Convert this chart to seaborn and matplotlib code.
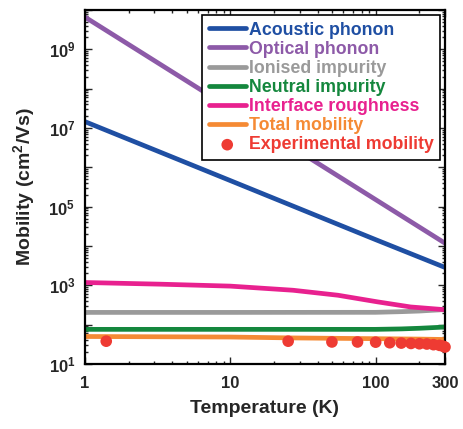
import numpy as np
import matplotlib
matplotlib.use("Agg")
import matplotlib.pyplot as plt
import matplotlib.ticker as mticker
import seaborn as sns

# ---- data ----
T_ac = [1, 10, 100, 300]
mu_ac = [1.45e7, 4.6e5, 1.45e4, 2.85e3]

T_op = [1, 300]
mu_op = [6.6e9, 1.18e4]

T_ion = [1, 10, 100, 150, 200, 300]
mu_ion = [205, 205, 206, 214, 222, 242]

T_neu = [1, 10, 100, 150, 200, 300]
mu_neu = [76, 76, 76, 78, 81, 87]

T_ir = [1, 3.3, 10, 27, 55, 103, 174, 300]
mu_ir = [1180, 1070, 955, 750, 560, 380, 282, 240]

T_tot = [1, 10, 27, 100, 200, 300]
mu_tot = [50, 48.5, 46, 44, 43, 42]

T_exp = [1.4, 25, 50, 75, 100, 125, 150, 175, 200, 225, 250, 275, 290, 300]
mu_exp = [38, 38, 36.3, 36.3, 35.9, 34.7, 34, 33.3, 32.7, 32.2, 31, 29.8, 28.5, 27]

x_ticks = [1, 10, 100, 300]
x_ticklabels = ["1", "10", "100", "300"]

sns.set_style("ticks")
plt.rcParams["font.family"] = ["Liberation Sans", "DejaVu Sans"]
plt.rcParams["font.weight"] = "bold"
plt.rcParams["mathtext.fontset"] = "custom"
plt.rcParams["mathtext.rm"] = "Liberation Sans:bold"
plt.rcParams["mathtext.bf"] = "Liberation Sans:bold"
plt.rcParams["mathtext.default"] = "bf"

fig = plt.figure(figsize=(4.64, 4.29), dpi=100)
ax = fig.add_axes([85/464, 1-364/429, 360/464, 354/429])

lw = 3.4
series = [
    (T_ac, mu_ac, "#1f4fa3", "Acoustic phonon"),
    (T_op, mu_op, "#8d5aa8", "Optical phonon"),
    (T_ion, mu_ion, "#9a9a9a", "Ionised impurity"),
    (T_neu, mu_neu, "#14873d", "Neutral impurity"),
    (T_ir, mu_ir, "#e8218f", "Interface roughness"),
    (T_tot, mu_tot, "#f58a34", "Total mobility"),
]
for t, m, c, lab in series:
    sns.lineplot(x=t, y=m, color=c, lw=lw, label=lab, ax=ax, sort=False)

sns.scatterplot(x=T_exp, y=mu_exp, color="#ee3b33", s=70, edgecolor="none",
                label="Experimental mobility", ax=ax, zorder=5, clip_on=False)

ax.set_xscale("log")
ax.set_yscale("log")
ax.set_xlim(1, 300)
ax.set_ylim(10, 1e10)

ax.set_xticks(x_ticks)
ax.set_xticklabels(x_ticklabels)
ax.xaxis.set_minor_locator(mticker.LogLocator(base=10, subs=np.arange(2, 10)))
ax.xaxis.set_minor_formatter(mticker.NullFormatter())

yt = [10.0**k for k in range(1, 11)]
ax.set_yticks(yt)
ax.set_yticklabels([r"$\mathbf{10^{%d}}$" % k if k % 2 == 1 and k < 10 else "" for k in range(1, 11)])
ax.yaxis.set_minor_locator(mticker.LogLocator(base=10, subs=np.arange(2, 10), numticks=20))
ax.yaxis.set_minor_formatter(mticker.NullFormatter())

ax.tick_params(which="both", direction="in", top=True, right=True, width=1.0)
ax.tick_params(which="major", length=5, labelsize=12)
ax.tick_params(axis="x", which="major", pad=9)
ax.tick_params(axis="y", which="major", pad=7)
ax.tick_params(which="minor", length=2.5)
for s in ax.spines.values():
    s.set_linewidth(1.6)
    s.set_color("black")

ax.set_xlabel("Temperature (K)", fontsize=14, fontweight="bold", labelpad=6)
ax.set_ylabel("Mobility (cm$^{2}$/Vs)", fontsize=14, fontweight="bold", labelpad=8)

leg = ax.legend(loc="upper right", fontsize=12.8, frameon=True, fancybox=False,
                handlelength=2.1, handletextpad=0.15, labelspacing=0.12,
                borderpad=0.35, borderaxespad=0.3, markerscale=1.0)
leg.get_frame().set_edgecolor("black")
leg.get_frame().set_linewidth(1.2)
leg.get_frame().set_alpha(1)
cols = [c for _, _, c, _ in series] + ["#ee3b33"]
for txt, c in zip(leg.get_texts(), cols):
    txt.set_color(c)
    txt.set_fontweight("bold")

fig.savefig("out.png", dpi=100)
